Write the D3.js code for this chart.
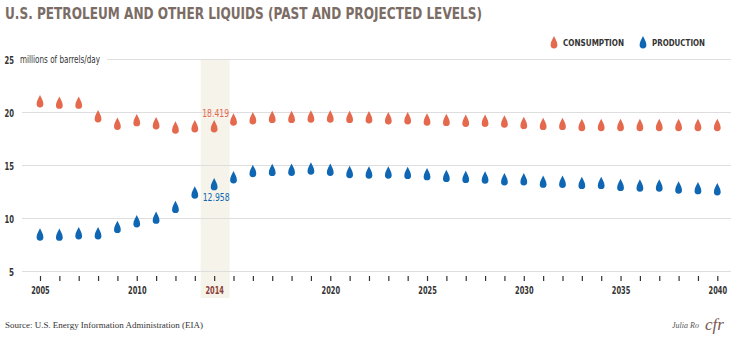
<!DOCTYPE html>
<html>
<head>
<meta charset="utf-8">
<script src="https://cdnjs.cloudflare.com/ajax/libs/d3/7.8.5/d3.min.js"></script>
<style>
    body { margin: 0; background: #fff; }
    svg { display: block; }
    .narrow { font-family: "Liberation Sans Narrow", "DejaVu Sans Condensed", "Roboto Condensed", sans-serif; }
</style>
</head>
<body>
<script>

// years 2005-2040, values in millions of barrels/day
var years = d3.range(2005, 2041);

var consumption = [
    20.78, 20.65, 20.65, 19.37, 18.65, 19.0, 18.7, 18.3, 18.42, 18.419,
    19.06, 19.18, 19.3, 19.3, 19.34, 19.34, 19.3, 19.27, 19.18, 19.18,
    19.05, 19.02, 18.94, 18.94, 18.87, 18.74, 18.64, 18.64, 18.54, 18.54,
    18.54, 18.54, 18.54, 18.54, 18.54, 18.54
];

var production = [
    8.21, 8.2, 8.33, 8.33, 8.93, 9.46, 9.8, 10.81, 12.17, 12.958,
    13.61, 14.2, 14.3, 14.32, 14.44, 14.32, 14.11, 14.06, 14.06, 14.02,
    13.9, 13.74, 13.64, 13.58, 13.42, 13.42, 13.2, 13.18, 13.08, 13.08,
    12.89, 12.83, 12.83, 12.64, 12.58, 12.48
];

var yTicks = [5, 10, 15, 20, 25];
var xLabels = [2005, 2010, 2014, 2020, 2025, 2030, 2035, 2040];
var highlightYear = 2014;

var width = 731,
    height = 340,
    consColor = '#e4694d',
    prodColor = '#0f67b4',
    titleColor = '#7b6c65';

var svg = d3.select('body').append('svg')
    .attr('width', width)
    .attr('height', height);

var xScale = d3.scaleLinear()
    .domain([2005, 2040])
    .range([40, 717.3]);

var yScale = d3.scaleLinear()
    .domain([5, 25])
    .range([271.3, 59.3]);

// highlight band behind the current year
svg.append('rect')
    .attr('x', xScale(highlightYear) - 13.5)
    .attr('y', 59)
    .attr('width', 29)
    .attr('height', 239)
    .style('fill', '#f6f3eb');

// title
svg.append('text')
    .attr('class', 'narrow')
    .attr('x', 5)
    .attr('y', 19)
    .attr('textLength', 477)
    .attr('lengthAdjust', 'spacingAndGlyphs')
    .style('font-size', '15px')
    .style('font-weight', 'bold')
    .style('fill', titleColor)
    .text('U.S. PETROLEUM AND OTHER LIQUIDS (PAST AND PROJECTED LEVELS)');

// horizontal grid
var grid = svg.append('g')
    .attr('class', 'grid');

grid.selectAll('line')
    .data(yTicks)
    .enter().append('line')
    .attr('x1', function(d) { return d === 25 ? 107 : 22; })
    .attr('x2', 731)
    .attr('y1', function(d) { return Math.round(yScale(d)) + 0.5; })
    .attr('y2', function(d) { return Math.round(yScale(d)) + 0.5; })
    .style('stroke', '#dedede')
    .style('stroke-width', '1px');

// y axis labels
var yAxis = d3.axisLeft(yScale)
    .tickValues(yTicks)
    .tickSize(0)
    .tickPadding(0);

svg.append('g')
    .attr('transform', 'translate(14,0)')
    .call(yAxis)
    .call(function(g) { g.select('.domain').remove(); })
    .selectAll('text')
    .attr('class', 'narrow')
    .attr('dy', '0.35em')
    .attr('textLength', function(d) { return d < 10 ? 5 : 9.5; })
    .attr('lengthAdjust', 'spacingAndGlyphs')
    .style('font-size', '11px')
    .style('font-weight', 'bold')
    .style('fill', '#333');

svg.append('text')
    .attr('class', 'narrow')
    .attr('x', 20)
    .attr('y', yScale(25))
    .attr('dy', '0.35em')
    .attr('textLength', 80)
    .attr('lengthAdjust', 'spacingAndGlyphs')
    .style('font-size', '10px')
    .style('fill', '#333')
    .text('millions of barrels/day');

// x axis: a tick each year, labels every five years plus the highlight year
var xAxis = d3.axisBottom(xScale)
    .tickValues(years)
    .tickSize(5)
    .tickPadding(6)
    .tickFormat(function(d) { return xLabels.indexOf(d) >= 0 ? d : ''; });

var xg = svg.append('g')
    .attr('transform', 'translate(0,276)')
    .call(xAxis);

xg.select('.domain').remove();
xg.selectAll('.tick line')
    .style('stroke', '#333')
    .style('stroke-width', '1.2px');
xg.selectAll('.tick text')
    .filter(function(d) { return xLabels.indexOf(d) >= 0; })
    .attr('class', 'narrow')
    .attr('textLength', 18.5)
    .attr('lengthAdjust', 'spacingAndGlyphs')
    .style('font-size', '10px')
    .style('font-weight', 'bold')
    .style('fill', function(d) { return d === highlightYear ? '#8c3d35' : '#333'; });

// teardrop marker, bulb centred on the value
var dropPath = 'M0,-9 C1.1,-6.2 3.4,-3.6 3.4,0 A3.4,3.4 0 1 1 -3.4,0 C-3.4,-3.6 -1.1,-6.2 0,-9 Z';

var drawSeries = function(values, color, cls) {
    svg.append('g')
        .attr('class', cls)
        .selectAll('path')
        .data(values)
        .enter().append('path')
        .attr('d', dropPath)
        .attr('transform', function(d, i) {
            return 'translate(' + xScale(years[i]) + ',' + yScale(d) + ')';
        })
        .style('fill', color);
};

drawSeries(consumption, consColor, 'consumption');
drawSeries(production, prodColor, 'production');

// value labels for the highlight year
var hi = years.indexOf(highlightYear);

svg.append('text')
    .attr('class', 'narrow')
    .attr('x', xScale(highlightYear) + 1.5)
    .attr('y', yScale(consumption[hi]) - 12)
    .attr('text-anchor', 'middle')
    .attr('textLength', 27)
    .attr('lengthAdjust', 'spacingAndGlyphs')
    .style('font-size', '11px')
    .style('fill', consColor)
    .text(d3.format('.3f')(consumption[hi]));

svg.append('text')
    .attr('class', 'narrow')
    .attr('x', xScale(highlightYear) + 2)
    .attr('y', yScale(production[hi]) + 14)
    .attr('text-anchor', 'middle')
    .attr('textLength', 27)
    .attr('lengthAdjust', 'spacingAndGlyphs')
    .style('font-size', '11px')
    .style('fill', prodColor)
    .text(d3.format('.3f')(production[hi]));

// legend
var legendItems = [
    {name: 'CONSUMPTION', color: consColor, x: 554, len: 61},
    {name: 'PRODUCTION', color: prodColor, x: 643, len: 53}
];

var legend = svg.selectAll('.legend')
    .data(legendItems)
    .enter().append('g')
    .attr('class', 'legend')
    .attr('transform', function(d) { return 'translate(' + d.x + ',45)'; });

legend.append('path')
    .attr('d', dropPath)
    .style('fill', function(d) { return d.color; });

legend.append('text')
    .attr('class', 'narrow')
    .attr('x', 9)
    .attr('y', -2)
    .attr('dy', '0.35em')
    .attr('textLength', function(d) { return d.len; })
    .attr('lengthAdjust', 'spacingAndGlyphs')
    .style('font-size', '9.5px')
    .style('font-weight', 'bold')
    .style('fill', '#333')
    .text(function(d) { return d.name; });

// footer
svg.append('text')
    .attr('x', 5)
    .attr('y', 328)
    .attr('textLength', 198)
    .attr('lengthAdjust', 'spacingAndGlyphs')
    .style('font-family', '"Liberation Serif", "DejaVu Serif", serif')
    .style('font-size', '9px')
    .style('fill', '#333')
    .text('Source: U.S. Energy Information Administration (EIA)');

svg.append('text')
    .attr('x', 672)
    .attr('y', 328)
    .style('font-family', '"Liberation Serif", "DejaVu Serif", serif')
    .style('font-style', 'italic')
    .style('font-size', '8px')
    .style('fill', '#555')
    .text('Julia Ro');

svg.append('text')
    .attr('x', 705)
    .attr('y', 330)
    .style('font-family', '"Liberation Serif", "DejaVu Serif", serif')
    .style('font-style', 'italic')
    .style('font-size', '17px')
    .style('fill', '#7a5a52')
    .text('cfr');

</script>
</body>
</html>
